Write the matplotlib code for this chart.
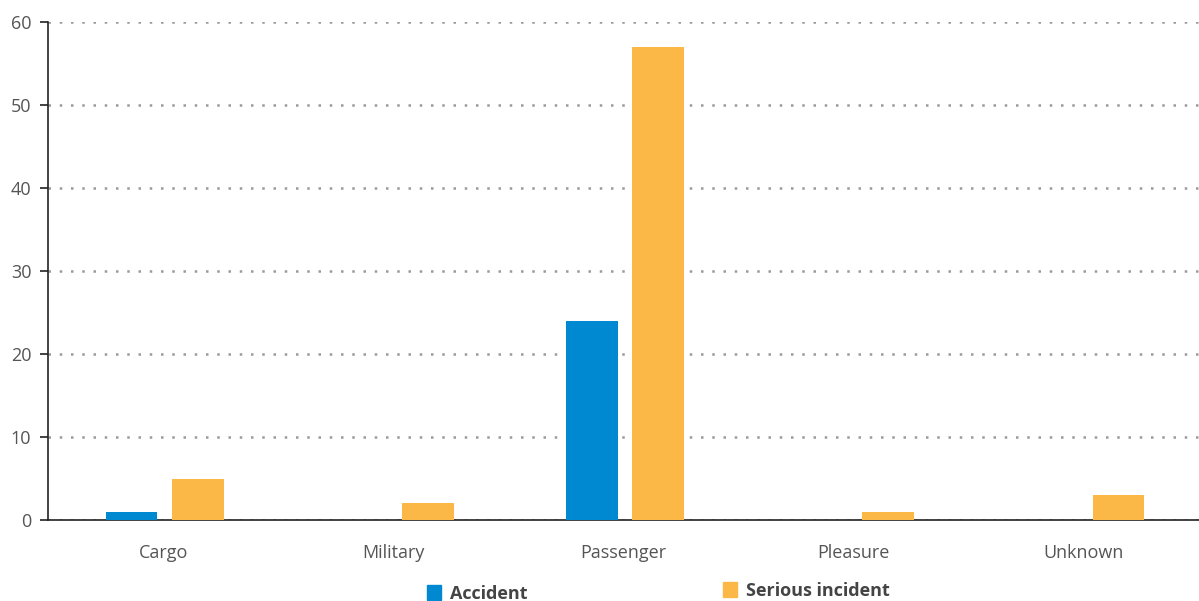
import matplotlib.pyplot as plt
from matplotlib.patches import Rectangle
import numpy as np

plt.rcParams['font.family'] = ['Open Sans', 'DejaVu Sans']

categories = ["Cargo", "Military", "Passenger", "Pleasure", "Unknown"]
accident = [1, 0, 24, 0, 0]
serious_incident = [5, 2, 57, 1, 3]

blue = "#0088d1"
orange = "#fbb846"
text_grey = "#555555"

fig = plt.figure(figsize=(11.99, 6.01), dpi=100)
ax = fig.add_axes([48 / 1199, 1 - 520 / 601, 1 - 48 / 1199, (520 - 22) / 601])

x = np.arange(len(categories))
width = 0.225
ax.bar(x - 0.137, accident, width, color=blue, zorder=3)
ax.bar(x + 0.150, serious_incident, width, color=orange, zorder=3)

ax.set_xlim(-0.5, len(categories) - 0.5)
ax.set_ylim(0, 60)
ax.set_yticks(range(0, 61, 10))
ax.set_xticks(x)
ax.set_xticklabels(categories)
ax.yaxis.grid(True, linestyle=(0, (1, 3.5)), color="#9a9a9a", linewidth=1.8, zorder=0)

for side in ["top", "right"]:
    ax.spines[side].set_visible(False)
ax.spines["left"].set_color("#222222")
ax.spines["bottom"].set_color("#222222")
ax.spines["left"].set_linewidth(1.2)
ax.spines["bottom"].set_linewidth(1.2)

ax.tick_params(axis="y", length=6, width=1.2, color="#222222", labelsize=13,
               labelcolor=text_grey, pad=6)
ax.tick_params(axis="x", length=0, labelsize=13, labelcolor=text_grey, pad=17)

# legend drawn by hand, the two entries sit at slightly different heights
fig.add_artist(Rectangle((427 / 1199, 1 - 600 / 601), 14 / 1199, 15 / 601,
                         transform=fig.transFigure, color=blue))
fig.text(450 / 1199, 1 - 599 / 601, "Accident", fontsize=13, fontweight="bold",
         color="#444444", va="baseline")
fig.add_artist(Rectangle((723 / 1199, 1 - 597 / 601), 14 / 1199, 15 / 601,
                         transform=fig.transFigure, color=orange))
fig.text(746 / 1199, 1 - 596 / 601, "Serious incident", fontsize=13, fontweight="bold",
         color="#444444", va="baseline")

fig.savefig("out.png", dpi=100)
